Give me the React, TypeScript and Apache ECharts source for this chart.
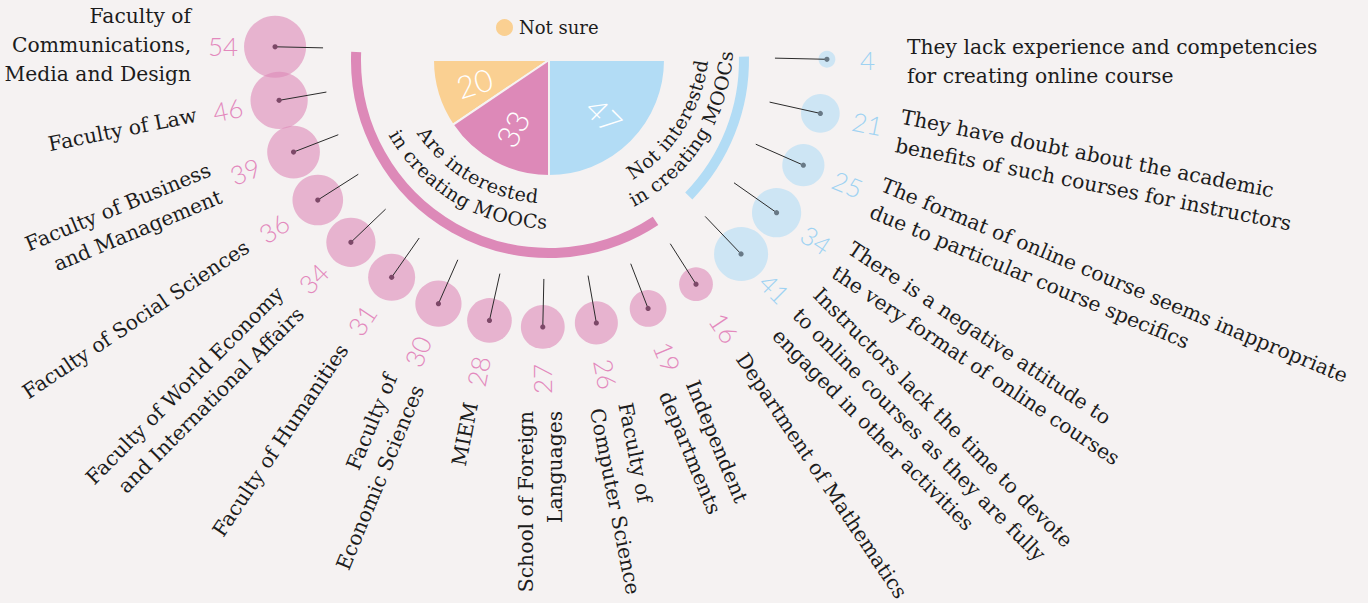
import React, { useEffect, useRef } from 'react';
import * as echarts from 'echarts';

// ---------- data ----------
const facultyNames = [
  'Faculty of\nCommunications,\nMedia and Design',
  'Faculty of Law',
  'Faculty of Business\nand Management',
  'Faculty of Social Sciences',
  'Faculty of World Economy\nand International Affairs',
  'Faculty of Humanities',
  'Faculty of\nEconomic Sciences',
  'MIEM',
  'School of Foreign\nLanguages',
  'Faculty of\nComputer Science',
  'Independent\ndepartments',
  'Department of Mathematics',
];
const facultyValues = [54, 46, 39, 36, 34, 31, 30, 28, 27, 26, 19, 16];

const reasonNames = [
  'Instructors lack the time to devote\nto online courses as they are fully\nengaged in other activities',
  'There is a negative attitude to\nthe very format of online courses',
  'The format of online course seems inappropriate\ndue to particular course specifics',
  'They have doubt about the academic\nbenefits of such courses for instructors',
  'They lack experience and competencies\nfor creating online course',
];
const reasonValues = [41, 34, 25, 21, 4];

const pieNames = ['Not sure', 'Are interested in creating MOOCs', 'Not interested in creating MOOCs'];
const pieValues = [20, 33, 47];

// ---------- style ----------
const BG = '#f5f2f2';
const PINK = '#dd89b8';
const BLUE = '#b2dcf5';
const YELLOW = '#fad092';
const SERIF = '"DejaVu Serif", serif';
const SANS = 'Lato, "Open Sans", sans-serif';
const ARC_FS = 19;
const LABEL_FS = 20.3;
const TILT = (1.3 * Math.PI) / 180;

function arcText(text: string, cx: number, cy: number, r: number, midDeg: number, color: string) {
  const canvas = document.createElement('canvas');
  const ctx = canvas.getContext('2d')!;
  ctx.font = `${ARC_FS}px "DejaVu Serif"`;
  const chars = Array.from(text);
  const pref: number[] = [0];
  for (let k = 1; k <= chars.length; k++) pref.push(ctx.measureText(chars.slice(0, k).join('')).width);
  const total = pref[chars.length];
  const start = (midDeg * Math.PI) / 180 + total / (2 * r);
  return chars.map((ch, k) => {
    const s = (pref[k] + pref[k + 1]) / 2;
    const a = start - s / r;
    return {
      type: 'text',
      x: cx + r * Math.cos(a),
      y: cy + r * Math.sin(a),
      rotation: Math.PI / 2 - a,
      silent: true,
      style: {
        text: ch, fill: color, fontSize: ARC_FS, fontFamily: SERIF,
        align: 'center', verticalAlign: 'middle', textAlign: 'center', textVerticalAlign: 'middle',
      },
    };
  });
}

function makeRender(color: string, dot: string, numColor: string, R: number, names: string[]) {
  return (params: any, api: any) => {
    const idx = api.value(0);
    const v = api.value(1);
    const c0 = api.coord([0, idx]);
    const c = api.coord([R, idx]);
    const e = api.coord([226, idx]);
    const n = api.coord([311, idx]);
    const l = api.coord([358, idx]);
    const ang = Math.atan2(c[1] - c0[1], c[0] - c0[0]) - TILT;
    const left = Math.cos(ang) < 0.01;
    const rot = left ? Math.PI - ang : -ang;
    const align = left ? 'right' : 'left';
    const rad = 4.22 * Math.sqrt(v);
    return {
      type: 'group',
      children: [
        { type: 'circle', shape: { cx: c[0], cy: c[1], r: rad }, style: { fill: color, opacity: 0.6 } },
        { type: 'line', shape: { x1: c[0], y1: c[1], x2: e[0], y2: e[1] }, style: { stroke: '#2b2b2b', lineWidth: 1 } },
        { type: 'circle', shape: { cx: c[0], cy: c[1], r: 2.6 }, style: { fill: dot } },
        {
          type: 'text', x: n[0], y: n[1], rotation: rot,
          style: {
            text: String(v), fill: numColor, fontSize: 26, fontFamily: SANS, fontWeight: 300,
            align, verticalAlign: 'middle', textAlign: align, textVerticalAlign: 'middle',
          },
        },
        {
          type: 'text', x: l[0], y: l[1], rotation: rot,
          style: {
            text: names[params.dataIndex], fill: '#1c1c1c', fontSize: LABEL_FS, fontFamily: SERIF,
            lineHeight: 29, align, verticalAlign: 'middle', textAlign: align, textVerticalAlign: 'middle',
          },
        },
      ],
    };
  };
}

export default function App() {
  const ref = useRef<HTMLDivElement>(null);
  useEffect(() => {
    document.body.style.margin = '0';
    document.body.style.background = BG;
    const chart = echarts.init(ref.current!, null, { renderer: 'svg' });
    const PCX = 549, PCY = 60;
    const pieLabel = {
      show: true, position: 'inside', rotate: 'radial', formatter: '{c}',
      color: '#fff', fontSize: 31, fontFamily: SANS, fontWeight: 300,
    };
    const option: any = {
      animation: false,
      backgroundColor: BG,
      legend: {
        data: ['Not sure'], left: 489, top: 12, icon: 'circle', itemWidth: 19, itemHeight: 19,
        textStyle: { fontFamily: SERIF, fontSize: 18, color: '#1c1c1c' }, selectedMode: false,
      },
      polar: { center: [549, 53], radius: 400 },
      radiusAxis: { type: 'value', min: 0, max: 400, show: false },
      angleAxis: { type: 'value', min: 0, max: 32, startAngle: 178.7, clockwise: false, show: false },
      series: [
        {
          type: 'pie', center: [PCX, PCY], radius: [0, 116], startAngle: 180, endAngle: 270, clockwise: false,
          silent: true, label: { show: false }, labelLine: { show: false },
          itemStyle: { borderColor: BG, borderWidth: 2 },
          data: [
            { name: pieNames[0], value: pieValues[0], itemStyle: { color: YELLOW } },
            { name: pieNames[1], value: pieValues[1], itemStyle: { color: PINK } },
          ],
        },
        {
          type: 'pie', center: [PCX, PCY], radius: [0, 116], startAngle: 270, endAngle: 360, clockwise: false,
          silent: true, label: { show: false }, labelLine: { show: false },
          itemStyle: { borderColor: BG, borderWidth: 2 },
          data: [{ name: pieNames[2], value: pieValues[2], itemStyle: { color: BLUE } }],
        },
        {
          type: 'pie', center: [PCX, PCY], radius: [36, 114], startAngle: 180, endAngle: 270, clockwise: false,
          silent: true, label: pieLabel, labelLine: { show: false },
          itemStyle: { color: 'rgba(0,0,0,0)' },
          data: [
            { name: pieNames[0], value: pieValues[0] },
            { name: pieNames[1], value: pieValues[1] },
          ],
        },
        {
          type: 'pie', center: [PCX, PCY], radius: [36, 114], startAngle: 270, endAngle: 360, clockwise: false,
          silent: true, label: pieLabel, labelLine: { show: false },
          itemStyle: { color: 'rgba(0,0,0,0)' },
          data: [{ name: pieNames[2], value: pieValues[2] }],
        },
        {
          type: 'custom', coordinateSystem: 'polar', silent: true,
          dimensions: ['idx', 'val'], encode: { angle: 0, radius: 1 },
          data: facultyValues.map((v, i) => [i, v]),
          renderItem: makeRender(PINK, '#7d4868', '#e389bd', 274, facultyNames),
        },
        {
          type: 'custom', coordinateSystem: 'polar', silent: true,
          dimensions: ['idx', 'val'], encode: { angle: 0, radius: 1 },
          data: reasonValues.map((v, j) => [facultyValues.length + j, v]),
          renderItem: makeRender(BLUE, '#687986', '#9fd2f2', 278, reasonNames),
        },
      ],
      graphic: [
        {
          type: 'arc', silent: true,
          shape: { cx: PCX, cy: PCY, r: 193, startAngle: (56.5 * Math.PI) / 180, endAngle: (182.4 * Math.PI) / 180, clockwise: true },
          style: { stroke: PINK, lineWidth: 10, fill: 'none' },
        },
        {
          type: 'arc', silent: true,
          shape: { cx: PCX, cy: PCY, r: 195, startAngle: (-1 * Math.PI) / 180, endAngle: (44.2 * Math.PI) / 180, clockwise: true },
          style: { stroke: BLUE, lineWidth: 10, fill: 'none' },
        },
        ...arcText('Are interested', 549, 43.5, 153, 120, '#1c1c1c'),
        ...arcText('in creating MOOCs', 549, 43.5, 178, 120.5, '#1c1c1c'),
        ...arcText('Not interested', 549, 43.5, 153, 32.5, '#1c1c1c'),
        ...arcText('in creating MOOCs', 549, 43.5, 177, 32.6, '#1c1c1c'),
      ],
    };
    chart.setOption(option);
    return () => chart.dispose();
  }, []);
  return <div ref={ref} style={{ width: 1368, height: 603, background: BG }} />;
}
